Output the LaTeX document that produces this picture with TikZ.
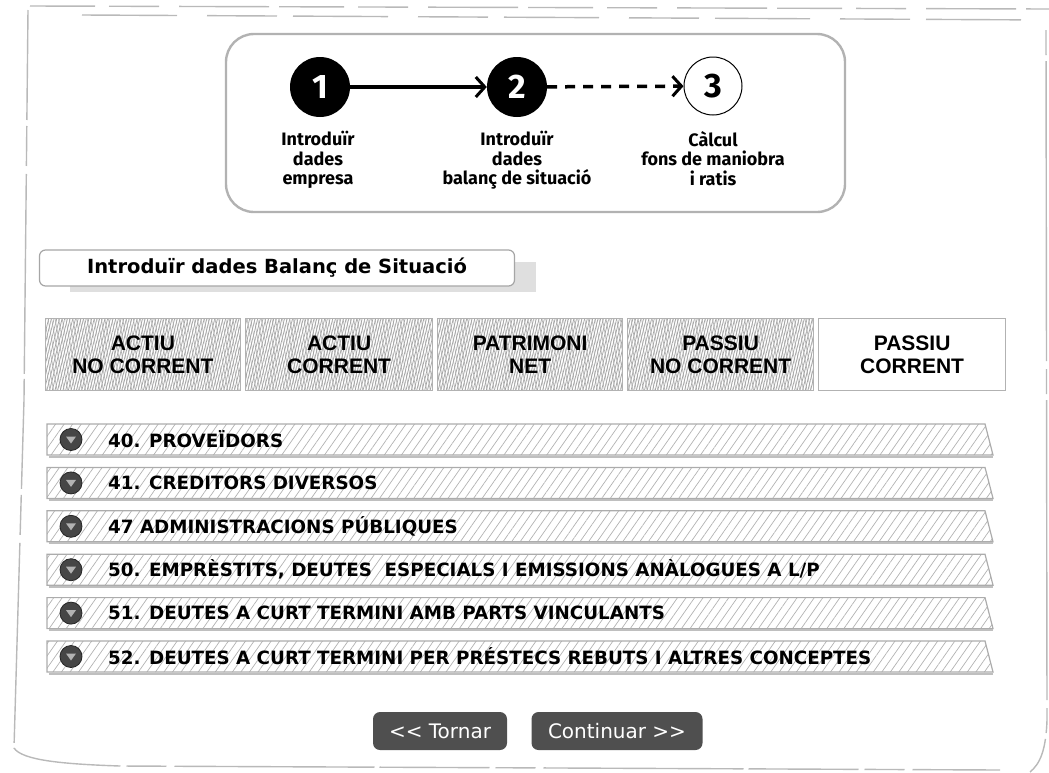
\documentclass[tikz,border=0pt]{standalone}
\usepackage{fontspec}
\setmainfont{DejaVu Sans}
\newfontfamily\stepfont{Fira Sans Bold}
\newfontfamily\tabfont{Liberation Sans Bold}
\usetikzlibrary{arrows.meta,patterns.meta,positioning}

\tikzset{
  frameline/.style={draw=gray!55, line width=1.4pt},
  stepbox/.style={draw=gray!60, line width=2.4pt, rounded corners=28pt},
  stepdone/.style={circle, fill=black, minimum size=60pt, inner sep=0pt,
    text=white, font=\stepfont\fontsize{34}{34}\selectfont},
  steptodo/.style={circle, draw=black, line width=1pt, fill=white,
    minimum size=58pt, inner sep=0pt, font=\stepfont\fontsize{34}{34}\selectfont},
  steparrow/.style={line width=3.5pt,
    -{Straight Barb[length=9pt, width=20pt, line width=3pt]}},
  steplabel/.style={anchor=north, align=center, inner sep=0pt,
    font=\stepfont\fontsize{18}{19.5}\selectfont},
  titlebox/.style={draw=gray!70, line width=1.2pt, fill=white,
    rounded corners=6pt, inner sep=0pt, font=\bfseries\fontsize{19.5}{19.5}\selectfont},
  tabbase/.style={draw=gray!60, line width=1.2pt, align=center, inner sep=0pt,
    anchor=north west, minimum height=72pt, font=\tabfont\fontsize{21}{23}\selectfont},
  tabhatch/.style={tabbase,
    preaction={pattern={Lines[angle=100, distance=3.5pt, line width=0.6pt]}, pattern color=gray!60},
    pattern={Lines[angle=76, distance=2.6pt, line width=0.8pt]}, pattern color=gray!70},
  tabopen/.style={tabbase, fill=white},
  rowbar/.style={draw=gray!65, line width=1.2pt,
    pattern={Lines[angle=55, distance=7pt, line width=0.7pt]}, pattern color=gray!60},
  rowicon/.style={circle, fill=gray!55!black, draw=gray!30!black, line width=0.8pt,
    minimum size=22pt, inner sep=0pt},
  rowtext/.style={anchor=west, inner sep=0pt, font=\bfseries\fontsize{18.3}{18.3}\selectfont},
  button/.style={fill=gray!62!black, rounded corners=7pt, text=white,
    minimum height=38pt, inner sep=0pt, font=\fontsize{20}{20}\selectfont}
}

\begin{document}
\begin{tikzpicture}[x=1pt,y=-1pt]
    % Define the size of the rows
    \def\rowleft{47}
    \def\rowright{990}
    \def\rowheight{31}
    \def\rowdist{43.4}
    \def\rowtop{424}

    \useasboundingbox (0,0) rectangle (1049,772);

    % Outer frame
    \draw[frameline, dash pattern=on 65pt off 14pt on 50pt off 20pt on 90pt off 10pt] (30,6) -- (1049,9);
    \draw[frameline, dash pattern=on 95pt off 30pt on 70pt off 16pt] (82,15) -- (1049,20);
    \draw[frameline, dash pattern=on 110pt off 6pt on 40pt off 8pt on 200pt off 5pt]
      (28,10) -- (24,400) -- (14,748) .. controls (22,760) and (60,764) .. (120,766) -- (1000,770);
    \draw[frameline, dash pattern=on 25pt off 6pt on 300pt off 8pt]
      (1046,30) -- (1047,720) .. controls (1046,750) and (1040,764) .. (1030,772);

    % Draw the steps
    \draw[stepbox] (226,34) rectangle (845,212);
    \node[stepdone] (s1) at (320,87) {1};
    \node[stepdone] (s2) at (517,87) {2};
    \node[steptodo] (s3) at (713,86) {3};
    \draw[steparrow] (s1) -- (s2);
    \draw[steparrow, dash pattern=on 10pt off 8pt] (s2) -- (s3);
    \node[steplabel] (l1) at (318,131) {Introduïr\\dades\\empresa};
    \node[steplabel] (l2) at (517,131) {Introduïr\\dades\\balanç de situació};
    \node[steplabel] (l3) at (713,131) {Càlcul\\fons de maniobra\\i ratis};

    % Title with its shadow
    \fill[gray!25] (70,262) rectangle (536,292);
    \node[titlebox, minimum width=475pt, minimum height=36pt] (title) at (277,268)
      {Introduïr dades Balanç de Situació};

    % Tabs
    \node[tabhatch, minimum width=195pt] (tab1) at (45,318) {ACTIU\\NO CORRENT};
    \node[tabhatch, minimum width=187pt] (tab2) at (245,318) {ACTIU\\CORRENT};
    \node[tabhatch, minimum width=185pt] (tab3) at (437,318) {PATRIMONI\\NET};
    \node[tabhatch, minimum width=186pt] (tab4) at (627,318) {PASSIU\\NO CORRENT};
    \node[tabopen, minimum width=187pt] (tab5) at (818,318) {PASSIU\\CORRENT};

    % Rows of accounts
    \foreach \txt [count=\i from 0, evaluate=\i as \y using \rowtop+\i*\rowdist] in
      {{40. PROVEÏDORS},
       {41. CREDITORS DIVERSOS},
       {47 ADMINISTRACIONS PÚBLIQUES},
       {50. EMPRÈSTITS, DEUTES\ \ ESPECIALS I EMISSIONS ANÀLOGUES A L/P},
       {51. DEUTES A CURT TERMINI AMB PARTS VINCULANTS},
       {52. DEUTES A CURT TERMINI PER PRÉSTECS REBUTS I ALTRES CONCEPTES}} {
      \draw[rowbar] (\rowleft,\y) -- (\rowright-5,\y) -- (\rowright+3,\y+\rowheight)
        -- (\rowleft,\y+\rowheight) -- cycle;
      \draw[gray!50, line width=2pt] (\rowleft+2,\y+\rowheight+1.5) -- (\rowright+3,\y+\rowheight+1.5);
      \node[rowicon] (icon\i) at (71,\y+\rowheight/2) {};
      \fill[gray!60] (icon\i.center) ++(-5,-3) -- ++(10,0) -- ++(-5,7) -- cycle;
      \node[rowtext] (row\i) at (108,\y+\rowheight/2) {\txt};
    }

    % Buttons
    \node[button, minimum width=134pt] (back) at (440,731) {<{}< Tornar};
    \node[button, minimum width=171pt] (next) at (617,731) {Continuar >{}>};
\end{tikzpicture}
\end{document}
